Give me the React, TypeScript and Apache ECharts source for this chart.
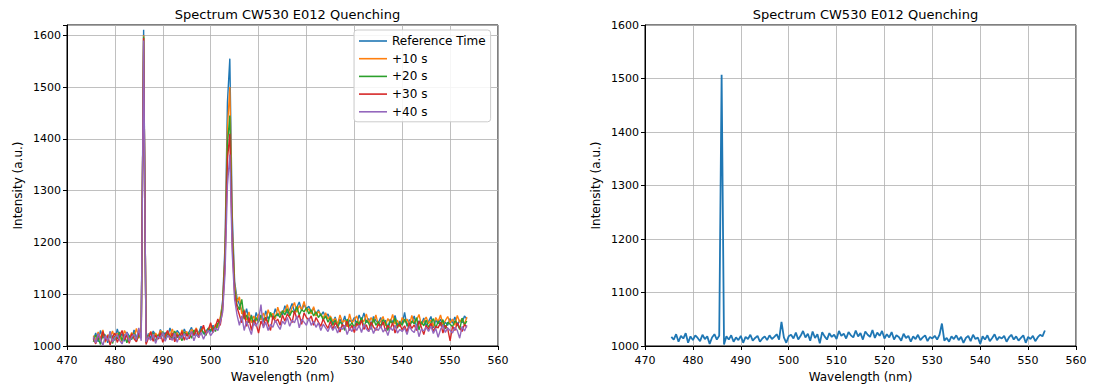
import React, { useEffect, useRef } from "react";
import * as echarts from "echarts";

// Wavelength grid (nm) shared by all spectra: 475.5 .. 553.5, step 0.5
const WL_START = 475.5;
const WL_STEP = 0.5;

const SERIES_NAMES = ["Reference Time", "+10 s", "+20 s", "+30 s", "+40 s"];
const COLORS = ["#1f77b4", "#ff7f0e", "#2ca02c", "#d62728", "#9467bd"];

const refTime = [
  1012,1025,1008,1030,1015,1022,1006,1028,1018,1011,
  1033,1016,1024,1009,1027,1019,1013,1031,1017,1023,
  1028,1611,1010,1024,1016,1029,1021,1014,1032,1019,
  1026,1017,1035,1022,1013,1030,1024,1018,1033,1021,
  1027,1036,1020,1031,1025,1038,1023,1029,1034,1027,
  1040,1032,1038,1050,1088,1195,1470,1555,1255,1125,
  1092,1080,1068,1055,1072,1048,1060,1042,1065,1050,
  1056,1047,1068,1052,1061,1055,1072,1058,1066,1060,
  1078,1063,1070,1082,1066,1075,1085,1068,1080,1072,
  1077,1065,1073,1060,1070,1058,1066,1055,1062,1050,
  1045,1056,1040,1052,1043,1058,1038,1050,1046,1055,
  1042,1060,1048,1064,1045,1053,1040,1057,1049,1044,
  1055,1041,1050,1036,1052,1046,1059,1040,1048,1043,
  1065,1038,1051,1045,1058,1036,1049,1042,1054,1039,
  1047,1057,1035,1050,1043,1052,1038,1046,1040,1053,
  1044,1056,1039,1050,1045,1058,1052,
];

const plus10 = [
  1020,1010,1027,1014,1031,1007,1022,1016,1029,1013,
  1025,1018,1008,1030,1021,1012,1026,1017,1034,1015,
  1022,1600,1014,1019,1028,1011,1025,1017,1030,1022,
  1015,1029,1020,1033,1018,1026,1012,1031,1023,1028,
  1019,1032,1026,1035,1021,1030,1036,1025,1032,1038,
  1030,1042,1035,1055,1082,1180,1420,1500,1230,1118,
  1085,1095,1062,1070,1050,1066,1045,1058,1048,1062,
  1050,1064,1049,1070,1056,1063,1052,1075,1060,1068,
  1066,1080,1061,1074,1084,1065,1078,1070,1086,1067,
  1072,1062,1076,1058,1067,1061,1054,1064,1052,1058,
  1048,1053,1042,1060,1046,1050,1037,1062,1044,1051,
  1058,1040,1052,1047,1062,1043,1055,1046,1060,1041,
  1048,1057,1039,1053,1045,1061,1042,1050,1037,1055,
  1046,1052,1040,1059,1044,1050,1061,1041,1048,1056,
  1043,1050,1038,1055,1047,1060,1042,1049,1057,1044,
  1052,1040,1059,1046,1053,1042,1056,
];

const plus20 = [
  1008,1021,1015,1003,1026,1018,1011,1024,1005,1019,
  1014,1027,1010,1022,1006,1020,1013,1025,1009,1021,
  1016,1598,1006,1020,1012,1025,1008,1022,1017,1028,
  1011,1024,1019,1014,1029,1016,1023,1010,1027,1020,
  1025,1015,1031,1022,1018,1033,1026,1020,1035,1030,
  1036,1028,1044,1048,1078,1170,1390,1445,1215,1110,
  1080,1070,1090,1052,1060,1045,1058,1040,1055,1046,
  1060,1050,1055,1045,1065,1052,1058,1062,1055,1068,
  1060,1072,1058,1068,1064,1076,1060,1070,1066,1074,
  1062,1070,1058,1066,1055,1062,1050,1058,1046,1055,
  1040,1050,1035,1047,1041,1030,1052,1038,1045,1036,
  1048,1042,1055,1036,1050,1044,1032,1053,1040,1047,
  1038,1051,1045,1030,1049,1043,1054,1035,1046,1040,
  1052,1041,1036,1048,1043,1055,1031,1047,1039,1050,
  1036,1045,1053,1034,1048,1040,1051,1033,1046,1042,
  1037,1049,1043,1032,1054,1041,1048,
];

const plus30 = [
  1015,1004,1023,1011,1028,1009,1020,1002,1017,1025,
  1007,1019,1030,1012,1021,1005,1024,1014,1008,1026,
  1019,1595,1003,1015,1027,1009,1021,1013,1026,1007,
  1020,1030,1012,1025,1008,1022,1016,1028,1011,1024,
  1014,1027,1021,1033,1016,1029,1040,1022,1031,1045,
  1026,1038,1052,1040,1070,1160,1360,1410,1200,1100,
  1075,1060,1045,1068,1038,1055,1030,1050,1042,1025,
  1048,1038,1055,1042,1030,1058,1046,1052,1040,1060,
  1048,1062,1055,1045,1068,1052,1060,1042,1064,1055,
  1050,1058,1040,1055,1046,1038,1052,1042,1034,1048,
  1032,1045,1038,1027,1042,1035,1048,1030,1040,1026,
  1044,1036,1050,1032,1041,1028,1046,1037,1030,1043,
  1035,1047,1029,1040,1033,1045,1025,1038,1042,1031,
  1039,1027,1045,1034,1041,1030,1048,1036,1022,1040,
  1032,1044,1028,1038,1035,1046,1025,1040,1033,1010,
  1038,1030,1045,1035,1028,1042,1036,
];

const plus40 = [
  1018,1006,1024,1013,1001,1020,1010,1027,1008,1016,
  1022,1011,1004,1019,1026,1009,1017,1023,1012,1035,
  1010,1590,1008,1018,1011,1023,1005,1019,1014,1026,
  1009,1021,1016,1011,1025,1007,1020,1015,1024,1012,
  1019,1028,1010,1023,1017,1026,1013,1024,1030,1020,
  1027,1035,1030,1045,1065,1140,1310,1370,1180,1090,
  1060,1040,1058,1030,1048,1035,1022,1045,1038,1050,
  1080,1035,1046,1030,1042,1036,1050,1040,1032,1048,
  1042,1055,1038,1050,1045,1058,1035,1052,1046,1040,
  1054,1040,1048,1036,1045,1030,1042,1035,1028,1040,
  1030,1038,1025,1036,1032,1040,1022,1035,1028,1038,
  1030,1040,1026,1042,1033,1028,1038,1024,1035,1030,
  1039,1027,1034,1020,1036,1030,1040,1025,1032,1028,
  1035,1022,1038,1030,1026,1040,1018,1033,1029,1036,
  1028,1038,1024,1034,1017,1032,1040,1026,1035,1030,
  1025,1036,1030,1015,1038,1029,1040,
];

const rightSpectrum = [
  1017,1012,1022,1008,1019,1014,1024,1006,1018,1011,
  1020,1015,1009,1021,1013,1018,1004,1016,1022,1012,
  1019,1507,1003,1018,1012,1020,1008,1016,1011,1019,
  1006,1017,1013,1021,1010,1015,1019,1008,1014,1018,
  1011,1020,1013,1017,1022,1012,1045,1016,1006,1018,
  1021,1014,1025,1012,1019,1028,1016,1023,1010,1027,
  1015,1022,1005,1026,1018,1012,1024,1017,1021,1013,
  1028,1019,1023,1014,1026,1020,1016,1029,1018,1024,
  1012,1027,1021,1017,1030,1015,1025,1019,1028,1014,
  1022,1016,1026,1012,1020,1017,1010,1023,1015,1019,
  1008,1018,1013,1021,1011,1016,1020,1009,1017,1014,
  1019,1012,1021,1042,1010,1015,1008,1018,1013,1020,
  1011,1017,1006,1015,1019,1009,1021,1013,1016,1004,
  1018,1012,1020,1009,1015,1022,1011,1017,1014,1019,
  1008,1016,1021,1012,1018,1010,1015,1020,1006,1017,
  1013,1019,1009,1016,1021,1018,1029,
];

const LEFT_SERIES = [refTime, plus10, plus20, plus30, plus40];
const X_TICKS = { min: 470, max: 560, interval: 10 };
const TITLE = "Spectrum CW530 E012 Quenching";

const FONT = "DejaVu Sans";

function toPairs(values: number[]) {
  return values.map((v, i) => [WL_START + i * WL_STEP, v]);
}

function xAxisCfg(gridIndex: number) {
  return {
    type: "value",
    gridIndex,
    min: X_TICKS.min,
    max: X_TICKS.max,
    interval: X_TICKS.interval,
    name: "Wavelength (nm)",
    nameLocation: "middle",
    nameGap: 23,
    nameTextStyle: { color: "#000", fontSize: 12, fontFamily: FONT },
    axisLine: { show: true, onZero: false, lineStyle: { color: "#000", width: 1 } },
    axisTick: { show: true, inside: false, length: 4, lineStyle: { color: "#000" } },
    axisLabel: { color: "#000", fontSize: 11, fontFamily: FONT, margin: 9 },
    splitLine: { show: true, lineStyle: { color: "#b0b0b0", width: 0.8 } },
  };
}

function yAxisCfg(gridIndex: number, max: number) {
  return {
    type: "value",
    gridIndex,
    min: 1000,
    max,
    interval: 100,
    name: "Intensity (a.u.)",
    nameLocation: "middle",
    nameGap: 43,
    nameRotate: 90,
    nameTextStyle: { color: "#000", fontSize: 12, fontFamily: FONT },
    axisLine: { show: true, lineStyle: { color: "#000", width: 1 } },
    axisTick: { show: true, inside: false, length: 4, lineStyle: { color: "#000" } },
    axisLabel: {
      color: "#000",
      fontSize: 11,
      fontFamily: FONT,
      margin: 6,
      formatter: (v: number) => (v % 100 === 0 ? String(v) : ""),
    },
    splitLine: { show: true, lineStyle: { color: "#b0b0b0", width: 0.8 } },
  };
}

export default function App() {
  const ref = useRef<HTMLDivElement>(null);

  useEffect(() => {
    if (!ref.current) return;
    const chart = echarts.init(ref.current, undefined, { renderer: "svg" });
    const leftSeries = LEFT_SERIES.map((vals, k) => ({
      name: SERIES_NAMES[k],
      type: "line",
      xAxisIndex: 0,
      yAxisIndex: 0,
      data: toPairs(vals),
      symbol: "none",
      showSymbol: false,
      lineStyle: { color: COLORS[k], width: 1.4 },
      itemStyle: { color: COLORS[k] },
      z: 2 + k,
    }));
    chart.setOption({
      animation: false,
      backgroundColor: "#fff",
      title: [
        {
          text: TITLE,
          left: 282.5,
          top: 3,
          textAlign: "center",
          textStyle: { color: "#000", fontSize: 13, fontWeight: "normal", fontFamily: FONT },
        },
        {
          text: TITLE,
          left: 860.5,
          top: 3,
          textAlign: "center",
          textStyle: { color: "#000", fontSize: 13, fontWeight: "normal", fontFamily: FONT },
        },
      ],
      grid: [
        { left: 67, right: 596, top: 25, bottom: 44, show: true, borderColor: "#000", borderWidth: 1, backgroundColor: "transparent" },
        { left: 645, right: 18, top: 25, bottom: 44, show: true, borderColor: "#000", borderWidth: 1, backgroundColor: "transparent" },
      ],
      legend: {
        data: SERIES_NAMES.map((n) => ({ name: n, icon: "rect" })),
        left: 354,
        top: 30,
        orient: "vertical",
        itemWidth: 28,
        itemHeight: 1.6,
        itemGap: 3.7,
        padding: [4, 5, 3, 5],
        backgroundColor: "rgba(255,255,255,0.85)",
        borderColor: "#cccccc",
        borderWidth: 1,
        borderRadius: 3,
        textStyle: { color: "#000", fontSize: 12, fontFamily: FONT, lineHeight: 14 },
        z: 20,
      },
      xAxis: [xAxisCfg(0), xAxisCfg(1)],
      yAxis: [yAxisCfg(0, 1620), yAxisCfg(1, 1600)],
      series: [
        ...leftSeries,
        {
          name: "spectrum",
          type: "line",
          xAxisIndex: 1,
          yAxisIndex: 1,
          data: toPairs(rightSpectrum),
          symbol: "none",
          showSymbol: false,
          lineStyle: { color: COLORS[0], width: 1.8 },
        },
      ],
    });
    return () => chart.dispose();
  }, []);

  return (
    <div
      ref={ref}
      style={{ position: "fixed", left: 0, top: 0, width: 1094, height: 390, background: "#fff" }}
    />
  );
}
